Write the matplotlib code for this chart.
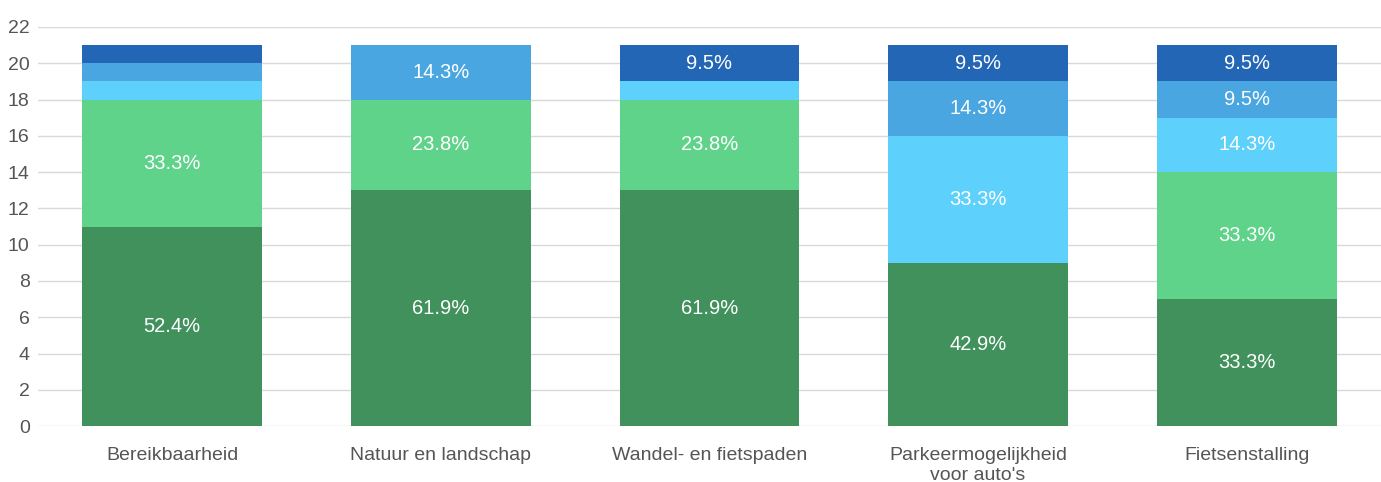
import matplotlib.pyplot as plt
import numpy as np

plt.rcParams["font.family"] = ["Liberation Sans", "DejaVu Sans"]

categories = ["Bereikbaarheid", "Natuur en landschap", "Wandel- en fietspaden",
              "Parkeermogelijkheid\nvoor auto's", "Fietsenstalling"]

# stacked segments, bottom to top
seg1 = [11, 13, 13, 9, 7]
seg2 = [7, 5, 5, 0, 7]
seg3 = [1, 0, 1, 7, 3]
seg4 = [1, 3, 0, 3, 2]
seg5 = [1, 0, 2, 2, 2]

colors = ["#41915c", "#5fd389", "#5dd0fc", "#49a6e0", "#2366b5"]
yticks = list(range(0, 23, 2))


def main():
    fig = plt.figure(figsize=(13.81, 4.82), dpi=100)
    ax = fig.add_axes([0.0275, 0.116, 0.9725, 0.828])

    series = [seg1, seg2, seg3, seg4, seg5]
    x = np.arange(len(categories))
    totals = np.sum(series, axis=0)
    bottom = np.zeros(len(categories))
    for vals, col in zip(series, colors):
        vals = np.array(vals, dtype=float)
        ax.bar(x, vals, bottom=bottom, width=0.67, color=col, zorder=3)
        for xi, v, b, t in zip(x, vals, bottom, totals):
            if v >= 2:
                ax.text(xi, b + v / 2, f"{v / t * 100:.1f}%", ha="center", va="center",
                        color="white", fontsize=14.5, zorder=4)
        bottom += vals

    ax.set_xlim(-0.5, len(categories) - 0.5)
    ax.set_ylim(0, 22)
    ax.set_yticks(yticks)
    ax.set_xticks(x)
    ax.set_xticklabels(categories, linespacing=1.25)
    ax.tick_params(axis="both", length=0, labelsize=14, colors="#555555")
    ax.tick_params(axis="x", pad=15)
    ax.tick_params(axis="y", pad=6)
    ax.grid(axis="y", color="#d9d9d9", linewidth=1, zorder=0)
    for s in ax.spines.values():
        s.set_visible(False)

    fig.savefig("out.png", dpi=100)
    plt.close(fig)


if __name__ == "__main__":
    main()
